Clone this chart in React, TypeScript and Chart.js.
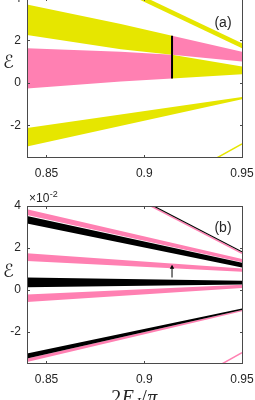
import React, { useEffect, useRef } from 'react';
import { Chart, registerables } from 'chart.js';
Chart.register(...registerables);

// ---------- shared axes ----------
const X_MIN = 0.84;
const X_MAX = 0.95;
const X_TICKS = [0.85, 0.9, 0.95];
const X_TICK_LABELS = ['0.85', '0.9', '0.95'];
const Y_MIN = -3.5;
const Y_MAX = 4;
const Y_TICKS = [-2, 0, 2, 4];
const Y_TICK_LABELS = ['-2', '0', '2', '4'];

// ---------- panel (a) ----------
const A_X_LEFT = [0.84, 0.888, 0.9142];
const A_UP_TOP_L = [3.73, 2.8, 2.24];
const A_UP_BOT_L = [2.28, 1.61, 1.34];
const A_LO_TOP_L = [1.65, 1.49, 1.34];
const A_LO_BOT_L = [-0.26, 0.08, 0.22];
const A_X_RIGHT = [0.9142, 0.95];
const A_UP_TOP_R = [2.24, 1.49];
const A_UP_BOT_R = [1.34, 1.02];
const A_LO_TOP_R = [1.34, 0.79];
const A_LO_BOT_R = [0.22, 0.42];
const A_X_FULL = [0.84, 0.95];
const A_BOT_TOP = [-2.13, -0.66];
const A_BOT_BOT = [-3.0, -0.76];
const A_X_UPPER = [0.895, 0.95];
const A_UPPER_TOP = [4.31, 1.89];
const A_UPPER_BOT = [4.07, 1.65];
const A_X_TAIL = [0.936, 0.95];
const A_TAIL = [-3.6, -2.88];
const A_X_MARK = [0.9142, 0.9142];
const A_MARK = [0.22, 2.24];

// ---------- panel (b), values in units of 1e-2 ----------
const B_X = [0.84, 0.95];
const B_P1_TOP = [3.84, 1.48];
const B_P1_BOT = [3.57, 1.33];
const B_K1_TOP = [3.52, 1.3];
const B_K1_BOT = [3.17, 1.08];
const B_P2_TOP = [1.75, 1.03];
const B_P2_BOT = [1.38, 0.87];
const B_K2_TOP = [0.6, 0.44];
const B_K2_BOT = [0.13, 0.27];
const B_P3_TOP = [-0.21, 0.26];
const B_P3_BOT = [-0.56, 0.1];
const B_K3_TOP = [-3.02, -0.88];
const B_K3_BOT = [-3.25, -0.95];
const B_P4_TOP = [-3.25, -0.95];
const B_P4_BOT = [-3.42, -1.0];
const B_X_UPPER = [0.9, 0.95];
const B_UPPER_K = [4.23, 1.82];
const B_UPPER_P = [4.16, 1.75];
const B_X_TAIL = [0.937, 0.95];
const B_TAIL = [-3.65, -2.98];
const B_X_ARROW = [0.9142, 0.9142];
const B_ARROW = [0.6, 1.08];

const PINK = 'rgb(255,128,178)';
const YELLOW = 'rgb(230,230,0)';
const BLACK = '#000000';
const AXIS = '#262626';
const BOX = '#4a4a4a';
const TICK_LEN = 2.5;
const SANS = '"Liberation Sans", Arial, Helvetica, sans-serif';

const pts = (xs: number[], ys: number[]) => xs.map((x, i) => ({ x, y: ys[i] }));

// bands are drawn behind lines (higher order = further back)
function band(xs: number[], bot: number[], top: number[], color: string, order = 10) {
  return [
    { data: pts(xs, bot), borderWidth: 0, borderColor: 'rgba(0,0,0,0)', pointRadius: 0, fill: false, order },
    { data: pts(xs, top), borderWidth: 0, borderColor: 'rgba(0,0,0,0)', pointRadius: 0, fill: '-1', backgroundColor: color, order },
  ];
}

function line(xs: number[], ys: number[], color: string, width: number, order: number, extra: any = {}) {
  return { data: pts(xs, ys), borderColor: color, borderWidth: width, pointRadius: 0, fill: false, order, ...extra };
}

const snap = (v: number) => Math.round(v - 0.5) + 0.5;

function decoPlugin(panel: 'a' | 'b') {
  return {
    id: 'deco_' + panel,
    afterDraw(chart: any) {
      const { ctx, chartArea: ca, scales } = chart;
      const xs = scales.x;
      const ys = scales.y;
      const L = snap(ca.left), R = snap(ca.right), T = snap(ca.top), B = snap(ca.bottom);
      ctx.save();
      ctx.strokeStyle = BOX;
      ctx.lineWidth = 1;
      ctx.strokeRect(L, T, R - L, B - T);
      ctx.beginPath();
      for (const v of X_TICKS) {
        const px = snap(xs.getPixelForValue(v));
        ctx.moveTo(px, B); ctx.lineTo(px, B - TICK_LEN);
        ctx.moveTo(px, T); ctx.lineTo(px, T + TICK_LEN);
      }
      for (const v of Y_TICKS) {
        const py = snap(ys.getPixelForValue(v));
        ctx.moveTo(L, py); ctx.lineTo(L + TICK_LEN, py);
        ctx.moveTo(R, py); ctx.lineTo(R - TICK_LEN, py);
      }
      ctx.stroke();

      ctx.fillStyle = AXIS;
      // panel letter
      ctx.font = '14px ' + SANS;
      ctx.textAlign = 'center';
      ctx.textBaseline = 'middle';
      ctx.fillText(panel === 'a' ? '(a)' : '(b)', ca.right - 19, ca.top + (panel === 'a' ? 24 : 22));
      // y label
      ctx.font = '18px "DejaVu Serif", "DejaVu Sans", serif';
      ctx.fillText('\u2130', 8.5, ca.top + (panel === 'a' ? 65 : 66.5));

      if (panel === 'b') {
        // exponent
        ctx.textAlign = 'left';
        ctx.textBaseline = 'alphabetic';
        ctx.font = '12px ' + SANS;
        ctx.fillText('\u00d710', 29, ca.top - 4);
        const w = ctx.measureText('\u00d710').width;
        ctx.font = '9px ' + SANS;
        ctx.fillText('-2', 29 + w + 0.5, ca.top - 9);
        // x title 2E_J/pi
        const base = ca.bottom + 40;
        const parts: [string, string, number][] = [
          ['2', '20px "Liberation Serif", "Times New Roman", serif', 0],
          ['E', 'italic 20px "Liberation Serif", "Times New Roman", serif', 0],
          ['J', 'italic 14px "Liberation Serif", "Times New Roman", serif', 4],
          ['/', '20px "Liberation Serif", "Times New Roman", serif', 0],
          ['\u03c0', 'italic 20px "Liberation Serif", "Times New Roman", serif', 0],
        ];
        let total = 0;
        const widths = parts.map(([t, f]) => { ctx.font = f; const ww = ctx.measureText(t).width + 0.5; total += ww; return ww; });
        let x = (ca.left + ca.right) / 2 - total / 2;
        parts.forEach(([t, f, dy], i) => {
          ctx.font = f;
          ctx.fillText(t, x, base + dy);
          x += widths[i];
        });
      }
      ctx.restore();
    },
  };
}

function makeConfig(panel: 'a' | 'b', datasets: any[], padTop: number, padBottom: number) {
  return {
    type: 'line' as const,
    data: { datasets },
    options: {
      animation: false,
      responsive: false,
      devicePixelRatio: 1,
      events: [],
      layout: { padding: { top: padTop, bottom: padBottom, left: 0, right: 13 } },
      plugins: { legend: { display: false }, tooltip: { enabled: false } },
      elements: { line: { tension: 0 } },
      scales: {
        x: {
          type: 'linear',
          min: X_MIN,
          max: X_MAX,
          grid: { display: false, drawTicks: false },
          border: { display: false },
          ticks: {
            padding: 9,
            color: AXIS,
            maxRotation: 0,
            font: { family: SANS, size: 12 },
            callback: (_v: any, i: number) => X_TICK_LABELS[i],
          },
          afterBuildTicks: (s: any) => { s.ticks = X_TICKS.map((value) => ({ value })); },
          afterFit: (s: any) => { s.height = 28; s.paddingLeft = 0; s.paddingRight = 0; },
        },
        y: {
          type: 'linear',
          min: Y_MIN,
          max: Y_MAX,
          grid: { display: false, drawTicks: false },
          border: { display: false },
          ticks: {
            padding: 6,
            color: AXIS,
            font: { family: SANS, size: 12 },
            callback: (_v: any, i: number) => Y_TICK_LABELS[i],
          },
          afterBuildTicks: (s: any) => { s.ticks = Y_TICKS.map((value) => ({ value })); },
          afterFit: (s: any) => { s.width = 27; s.paddingTop = 0; s.paddingBottom = 0; },
        },
      },
    },
    plugins: [decoPlugin(panel)],
  };
}

export default function App() {
  const refA = useRef<HTMLCanvasElement>(null);
  const refB = useRef<HTMLCanvasElement>(null);

  useEffect(() => {
    const dsA = [
      ...band(A_X_LEFT, A_UP_BOT_L, A_UP_TOP_L, YELLOW),
      ...band(A_X_LEFT, A_LO_BOT_L, A_LO_TOP_L, PINK),
      ...band(A_X_RIGHT, A_UP_BOT_R, A_UP_TOP_R, PINK),
      ...band(A_X_RIGHT, A_LO_BOT_R, A_LO_TOP_R, YELLOW),
      ...band(A_X_FULL, A_BOT_BOT, A_BOT_TOP, YELLOW),
      ...band(A_X_UPPER, A_UPPER_BOT, A_UPPER_TOP, YELLOW),
      line(A_X_TAIL, A_TAIL, YELLOW, 1.5, 1),
      line(A_X_MARK, A_MARK, BLACK, 2, 0),
    ];
    const dsB = [
      ...band(B_X, B_P1_BOT, B_P1_TOP, PINK, 10),
      ...band(B_X, B_K1_BOT, B_K1_TOP, BLACK, 9),
      ...band(B_X, B_P2_BOT, B_P2_TOP, PINK, 10),
      ...band(B_X, B_K2_BOT, B_K2_TOP, BLACK, 9),
      ...band(B_X, B_P3_BOT, B_P3_TOP, PINK, 10),
      ...band(B_X, B_P4_BOT, B_P4_TOP, PINK, 10),
      ...band(B_X, B_K3_BOT, B_K3_TOP, BLACK, 9),
      line(B_X_UPPER, B_UPPER_P, PINK, 1.5, 2),
      line(B_X_UPPER, B_UPPER_K, BLACK, 1.1, 1),
      line(B_X_TAIL, B_TAIL, PINK, 1.5, 2),
      line(B_X_ARROW, B_ARROW, BLACK, 1, 0, {
        pointRadius: [0, 2.6],
        pointStyle: 'triangle',
        pointBackgroundColor: BLACK,
        pointBorderColor: BLACK,
        pointBorderWidth: 0,
      }),
    ];
    const a = new Chart(refA.current as HTMLCanvasElement, makeConfig('a', dsA, 8.7, 0) as any);
    const b = new Chart(refB.current as HTMLCanvasElement, makeConfig('b', dsB, 21, 8.3) as any);
    return () => { a.destroy(); b.destroy(); };
  }, []);

  return (
    <div style={{ position: 'fixed', left: 0, top: 0, width: 255, height: 400, overflow: 'hidden', background: '#ffffff' }}>
      <canvas ref={refA} width={255} height={195} style={{ position: 'absolute', left: 0, top: -10, width: 255, height: 195 }} />
      <canvas ref={refB} width={255} height={215} style={{ position: 'absolute', left: 0, top: 185, width: 255, height: 215 }} />
    </div>
  );
}
